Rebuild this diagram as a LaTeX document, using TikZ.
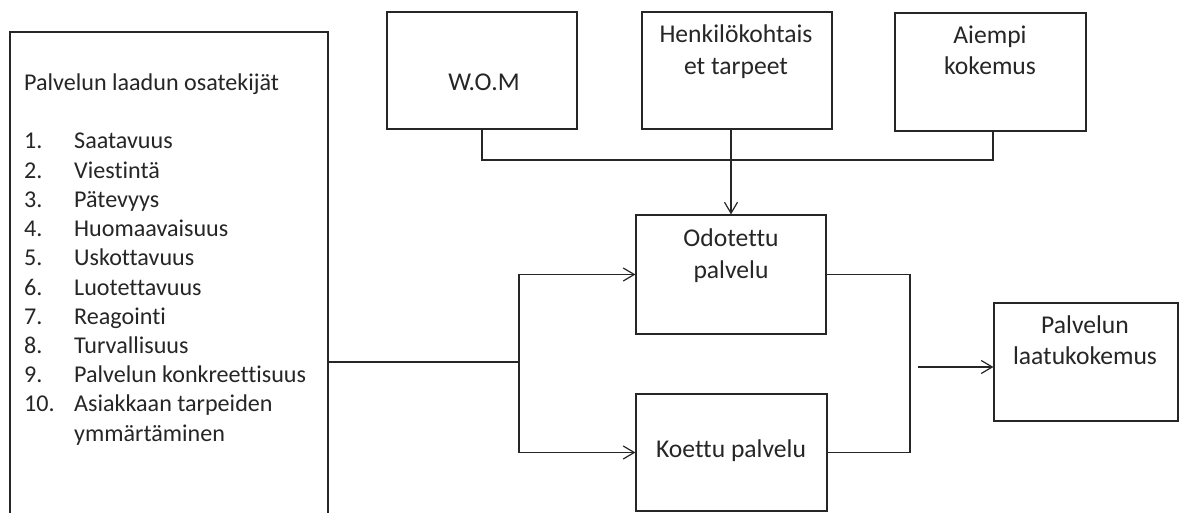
\documentclass[tikz,border=0pt]{standalone}
\usepackage{fontspec}
\setmainfont{Carlito}[Ligatures={NoCommon,NoContextual}]
\usetikzlibrary{arrows.meta}
\definecolor{ink}{HTML}{262626}
\tikzset{
  box/.style={draw=ink, line width=1.2pt, inner sep=0pt, fill=none},
  bt/.style={anchor=base, inner sep=0pt, text=ink, font=\fontsize{25.6}{30}\selectfont},
  lt/.style={anchor=base west, inner sep=0pt, text=ink, font=\fontsize{24.1}{29}\selectfont},
  con/.style={draw=ink, line width=1.2pt},
  arr/.style={con, -{Straight Barb[length=11pt,width=13pt,line width=1.2pt]}}
}
\begin{document}
\begin{tikzpicture}[x=1pt,y=-1pt]
\useasboundingbox (0,0) rectangle (1183,513);
\fill[white] (0,0) rectangle (1183,513);
% boxes
\node[box, minimum width=318pt, minimum height=510pt] (lb) at (169,287) {};
\node[box, minimum width=190pt, minimum height=117pt] (wom) at (482,70.5) {};
\node[box, minimum width=190pt, minimum height=117pt] (hen) at (737,70.5) {};
\node[box, minimum width=191pt, minimum height=118pt] (aie) at (990.5,72) {};
\node[box, minimum width=190pt, minimum height=119pt] (od) at (731,274.5) {};
\node[box, minimum width=191pt, minimum height=117pt] (kt) at (731.5,452.5) {};
\node[box, minimum width=184pt, minimum height=118pt] (pl) at (1086,362) {};
% box texts
\node[bt] (t1) at (484,91) {W.O.M};
\node[bt] (t2) at (736,42.7) {Henkilökohtais};
\node[bt] (t3) at (736,74.2) {et tarpeet};
\node[bt] (t4) at (990,43.5) {Aiempi};
\node[bt] (t5) at (990,75) {kokemus};
\node[bt] (t6) at (731,246.5) {Odotettu};
\node[bt] (t7) at (731,278) {palvelu};
\node[bt] (t8) at (731,457) {Koettu palvelu};
\node[bt] (t9) at (1085,333) {Palvelun};
\node[bt] (t10) at (1085,364.5) {laatukokemus};
% left list
\node[lt] (title) at (24,91) {Palvelun laadun osatekijät};
\foreach \n/\t [count=\i from 0] in {1./Saatavuus,2./Viestintä,3./Pätevyys,4./Huomaavaisuus,5./Uskottavuus,6./Luotettavuus,7./Reagointi,8./Turvallisuus,9./Palvelun konkreettisuus,10./Asiakkaan tarpeiden}{
  \node[lt] (n\i) at (24,149+29.2*\i) {\n};
  \node[lt] (i\i) at (74,149+29.2*\i) {\t};
}
\node[lt] (i10) at (74,441) {ymmärtäminen};
% connectors
\coordinate (top) at (731,160);
\draw[con] (wom.south) |- (top) -| (aie.south -| 993,0);
\draw[arr] (hen.south -| od.north) -- (od.north);
\coordinate (j1) at (519,362);
\draw[con] (lb.east |- j1) -- (j1);
\draw[arr] (j1) |- (od.west);
\draw[arr] (j1) |- (kt.west);
\coordinate (j2) at (910,362);
\draw[con] (od.east) -| (j2);
\draw[con] (kt.east) -| (j2);
\coordinate (j3) at (918,367);
\draw[arr] (j3) -- (pl.west |- j3);
\end{tikzpicture}
\end{document}
